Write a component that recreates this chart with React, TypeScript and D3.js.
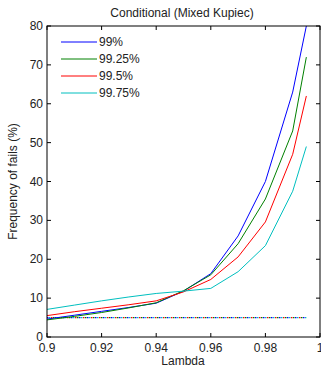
import * as d3 from "d3";

const lambdas = [0.9, 0.91, 0.92, 0.93, 0.94, 0.95, 0.96, 0.97, 0.98, 0.99, 0.995];
const s99 = [4.6, 5.6, 6.6, 7.6, 8.7, 11.8, 16.3, 26, 40, 63, 80];
const s9925 = [4.4, 5.3, 6.3, 7.5, 8.8, 11.9, 16, 24, 35.5, 53, 72];
const s995 = [5.5, 6.5, 7.4, 8.3, 9.3, 11.6, 14.8, 20.6, 29.6, 47, 62];
const s9975 = [7.1, 8.2, 9.3, 10.3, 11.2, 11.8, 12.5, 16.8, 23.5, 37.5, 49];
const expected = [5, 5, 5, 5, 5, 5, 5, 5, 5, 5, 5];
const seriesNames = ["99%", "99.25%", "99.5%", "99.75%"];
const xTicks = [0.9, 0.92, 0.94, 0.96, 0.98, 1];
const yTicks = [0, 10, 20, 30, 40, 50, 60, 70, 80];

const colors = ["#0000ff", "#008000", "#ff0000", "#00bfbf"];
const FONT = "'Liberation Sans', Arial, sans-serif";

export default function App() {
  const W = 321, H = 368;
  const m = { left: 47, right: 320, top: 26, bottom: 337 };
  const x = d3.scaleLinear().domain([0.9, 1]).range([m.left, m.right]);
  const y = d3.scaleLinear().domain([0, 80]).range([m.bottom, m.top]);
  const allSeries = [s99, s9925, s995, s9975];
  const line = d3
    .line<number>()
    .x((_, i) => x(lambdas[i]))
    .y((d) => y(d));
  const tick = 4;

  return (
    <svg
      width={W}
      height={H}
      style={{ position: "absolute", left: 0, top: 0, background: "#fff" }}
      fontFamily={FONT}
    >
      <defs>
        <clipPath id="plot">
          <rect x={m.left} y={m.top} width={m.right - m.left} height={m.bottom - m.top} />
        </clipPath>
      </defs>
      <rect width={W} height={H} fill="#fff" />
      <text x={182} y={17} fontSize={12} textAnchor="middle" fill="#222">
        Conditional (Mixed Kupiec)
      </text>

      <g clipPath="url(#plot)">
        {allSeries.map((s, i) => (
          <path
            key={"e" + i}
            d={line(expected) ?? ""}
            fill="none"
            stroke={colors[i]}
            strokeWidth={1.3}
            strokeDasharray="1.5,6.5"
            strokeDashoffset={i * 2}
          />
        ))}
        {allSeries.map((s, i) => (
          <path key={i} d={line(s) ?? ""} fill="none" stroke={colors[i]} strokeWidth={1} />
        ))}
      </g>

      <rect
        x={m.left}
        y={m.top}
        width={m.right - m.left}
        height={m.bottom - m.top}
        fill="none"
        stroke="#000"
        strokeWidth={1}
      />
      {xTicks.map((t) => (
        <g key={t}>
          <line x1={x(t)} x2={x(t)} y1={m.bottom} y2={m.bottom - tick} stroke="#000" />
          <line x1={x(t)} x2={x(t)} y1={m.top} y2={m.top + tick} stroke="#000" />
          <text x={x(t)} y={m.bottom + 15} fontSize={12} textAnchor="middle" fill="#222">
            {t}
          </text>
        </g>
      ))}
      {yTicks.map((t) => (
        <g key={t}>
          <line x1={m.left} x2={m.left + tick} y1={y(t)} y2={y(t)} stroke="#000" />
          <line x1={m.right} x2={m.right - tick} y1={y(t)} y2={y(t)} stroke="#000" />
          <text x={m.left - 4} y={y(t) + 4} fontSize={12} textAnchor="end" fill="#222">
            {t}
          </text>
        </g>
      ))}
      <text x={183} y={365} fontSize={12} textAnchor="middle" fill="#222">
        Lambda
      </text>
      <text
        transform={`translate(17,${(m.top + m.bottom) / 2}) rotate(-90)`}
        fontSize={12}
        textAnchor="middle"
        fill="#222"
      >
        Frequency of fails (%)
      </text>

      {seriesNames.map((n, i) => (
        <g key={n} transform={`translate(0,${42 + i * 17})`}>
          <line x1={61} x2={97} y1={0} y2={0} stroke={colors[i]} strokeWidth={1} />
          <text x={99} y={4} fontSize={12} fill="#222">
            {n}
          </text>
        </g>
      ))}
    </svg>
  );
}
